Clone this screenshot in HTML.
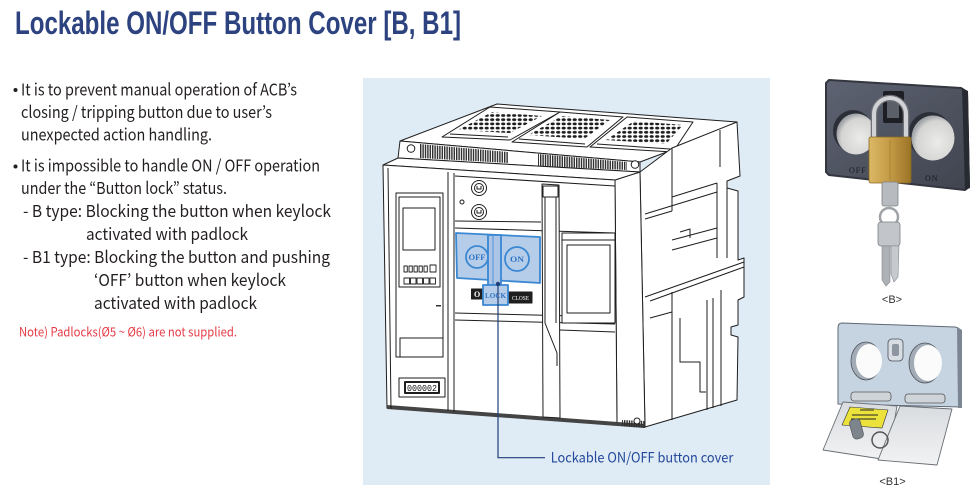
<!DOCTYPE html>
<html><head><meta charset="utf-8">
<style>
html,body{margin:0;padding:0;background:#fff;}
body{width:979px;height:502px;overflow:hidden;}
svg{display:block;}
.t{font-family:"Noto Sans CJK KR","Liberation Sans",sans-serif;font-size:16.5px;fill:#231f20;}
</style></head><body>
<svg width="979" height="502" viewBox="0 0 979 502" xmlns="http://www.w3.org/2000/svg">
<defs>
 <pattern id="fins" width="2.4" height="20" patternUnits="userSpaceOnUse"><rect width="1.4" height="20" fill="#2e2e2e"/></pattern>
 <pattern id="dots" width="5.5" height="4.2" patternUnits="userSpaceOnUse"><ellipse cx="2.7" cy="2.1" rx="2.1" ry="1.4" fill="#1e1e1e"/></pattern>
 <linearGradient id="plate" x1="0" y1="0" x2="1" y2="1"><stop offset="0" stop-color="#5d6372"/><stop offset="1" stop-color="#40444f"/></linearGradient>
 <linearGradient id="gold" x1="0" y1="0" x2="1" y2="0"><stop offset="0" stop-color="#dcb866"/><stop offset="0.5" stop-color="#c49a45"/><stop offset="1" stop-color="#9c7427"/></linearGradient>
 <radialGradient id="hole" cx="0.6" cy="0.6" r="0.6"><stop offset="0" stop-color="#ebebe9"/><stop offset="0.8" stop-color="#d4d4d2"/><stop offset="1" stop-color="#a0a3a8"/></radialGradient>
 <linearGradient id="flap" x1="0" y1="0" x2="0" y2="1"><stop offset="0" stop-color="#d9dcdf"/><stop offset="1" stop-color="#f1f2f3"/></linearGradient>
</defs>

<!-- Title -->
<text x="15" y="34" font-family="'Liberation Sans Narrow','Liberation Sans',sans-serif" font-weight="bold" font-size="32" fill="#2c4380" textLength="446" lengthAdjust="spacingAndGlyphs">Lockable ON/OFF Button Cover [B, B1]</text>

<!-- Body text -->
<circle cx="15.5" cy="90" r="2" fill="#231f20"/>
<circle cx="15.5" cy="166.5" r="2" fill="#231f20"/>
<text class="t" x="21" y="95.5" textLength="276" lengthAdjust="spacingAndGlyphs">It is to prevent manual operation of ACB’s</text>
<text class="t" x="21" y="118" textLength="251" lengthAdjust="spacingAndGlyphs">closing / tripping button due to user’s</text>
<text class="t" x="21" y="140.5" textLength="191" lengthAdjust="spacingAndGlyphs">unexpected action handling.</text>
<text class="t" x="21" y="171.5" textLength="299" lengthAdjust="spacingAndGlyphs">It is impossible to handle ON / OFF operation</text>
<text class="t" x="21" y="194" textLength="206" lengthAdjust="spacingAndGlyphs">under the “Button lock” status.</text>
<text class="t" x="23" y="217" textLength="308" lengthAdjust="spacingAndGlyphs">- B type: Blocking the button when keylock</text>
<text class="t" x="86" y="240" textLength="162" lengthAdjust="spacingAndGlyphs">activated with padlock</text>
<text class="t" x="23" y="263" textLength="307" lengthAdjust="spacingAndGlyphs">- B1 type: Blocking the button and pushing</text>
<text class="t" x="94" y="286" textLength="192" lengthAdjust="spacingAndGlyphs">‘OFF’ button when keylock</text>
<text class="t" x="94" y="309" textLength="163" lengthAdjust="spacingAndGlyphs">activated with padlock</text>
<text x="19" y="336.5" font-family="'Noto Sans CJK KR','Liberation Sans',sans-serif" font-size="12.5" fill="#e63b46" textLength="218" lengthAdjust="spacingAndGlyphs">Note) Padlocks(Ø5 ~ Ø6) are not supplied.</text>

<!-- Center panel -->
<rect x="363" y="78" width="407" height="407" fill="#dfebf5"/>

<g stroke="#1e1e1e" stroke-width="1" fill="#fff" stroke-linejoin="round">
 <!-- top surface -->
 <polygon points="400,141 497,104 737,122 672,150 640,162"/>
 <polygon points="442,137 510,140 560,112 490,107"/>
 <polygon points="512,142 587,147 623,117 560,112"/>
 <polygon points="590,147 673,152 693,122 627,117"/>
 <polygon points="458,130 510,133 542,116 492,112" fill="url(#dots)" stroke="none"/>
 <polygon points="528,135 584,139 610,120 562,116" fill="url(#dots)" stroke="none"/>
 <polygon points="606,140 666,144 683,125 634,121" fill="url(#dots)" stroke="none"/>
 <path fill="none" d="M450,134 L508,137 M519,139 L585,144 M597,144 L670,149"/>
 <!-- fin face -->
 <polygon points="400,141 640,162 640,172 398,158"/>
 <polygon points="420,144 508,152 508,163 420,158" fill="url(#fins)" stroke="none"/>
 <polygon points="538,154 627,162 627,170 538,166" fill="url(#fins)" stroke="none"/>
 <circle cx="411" cy="148.5" r="3.8"/>
 <circle cx="635" cy="164.5" r="3.8"/>
 <!-- right assembly -->
 <polygon points="640,172 672,148 737,122 740,176 727,181 727,188 738,191 738,260 744,258 744,297 738,300 738,325 731,327 731,335 738,337 737,400 645,427"/>
 <path fill="none" d="M672,148 V211 M720,130 V167 M645,214 L717,192 M645,219 L672,211 M672,197 L717,183 M717,183 V258 M672,240 L717,228 M672,250 L717,238 M680,232 L690,229 V238 M645,297 L744,262 M650,301 L744,267 M672,292 V420 M650,318 L672,312 M680,318 V362 H700 V392 H706 M707,300 V410 M713,298 V408 M721,290 V406 M727,188 V258"/>
 <!-- front slab side & top -->
 <polygon points="615,180 640,172 645,427 617,425"/>
 <polygon points="383,165 398,158 640,172 615,180"/>
 <!-- front face -->
 <polygon points="383,165 615,180 617,425 387,408"/>
 <polygon points="387,405 645,424 645,428 387,409" fill="#444" stroke="none"/>
 <polygon points="622,420 645,421 645,428 622,426" fill="url(#fins)" stroke="none"/>
 <circle cx="637" cy="421" r="3"/>
 <path fill="none" d="M388,168 L391,409 M448,172 V411 M454,173 V412 M455,176 L615,186"/>
 <!-- left module -->
 <rect x="396" y="193" width="47" height="164"/>
 <rect x="399" y="197" width="41" height="90"/>
 <rect x="403" y="208" width="32" height="42"/>
 <g fill="#fff" stroke-width="0.9">
  <rect x="404" y="266" width="3.3" height="6"/><rect x="409" y="266" width="3.3" height="6"/><rect x="414" y="266" width="3.3" height="6"/><rect x="419" y="266" width="3.3" height="6"/><rect x="424" y="266" width="3.3" height="6"/>
  <rect x="430" y="265" width="6" height="7"/>
  <rect x="404" y="278" width="5.5" height="6"/><rect x="410.5" y="278" width="5.5" height="6"/><rect x="417" y="278" width="5.5" height="6"/><rect x="423.5" y="278" width="5.5" height="6"/><rect x="430" y="278" width="5.5" height="6"/>
 </g>
 <rect x="436" y="305" width="5" height="1.5" fill="#333" stroke="none"/>
 <rect x="400" y="338" width="43" height="19"/>
 <rect x="399" y="378" width="46" height="19"/>
 <rect x="405" y="382" width="34" height="11" stroke-width="2"/>
 <text x="422" y="391" font-family="'Liberation Mono',monospace" font-size="9" fill="#111" stroke="none" text-anchor="middle" textLength="30" lengthAdjust="spacingAndGlyphs">000002</text>
 <!-- center buttons -->
 <circle cx="479" cy="188" r="7.5"/><circle cx="479" cy="188" r="4.5"/>
 <path d="M477,186 v3 h4 v-3" fill="none"/>
 <circle cx="479" cy="212" r="7.5"/><circle cx="479" cy="212" r="4.5"/>
 <path d="M477,210 v3 h4 v-3" fill="none"/>
 <circle cx="462" cy="202" r="2"/>
 <path fill="none" d="M455,221 L541,222 M455,228 L615,233 M455,313 L615,317 M455,320 L615,324 M560,330 L615,332"/>
 <!-- slot -->
 <polygon points="542,184 559,185 560,418 543,417"/>
 <rect x="543" y="186" width="15" height="11"/>
 <path fill="none" d="M545,197 V323 L557,353 V366 M556,197 V323"/>
 <!-- right window -->
 <rect x="562" y="233" width="53" height="90"/>
 <path fill="none" d="M562,240 H615"/>
 <rect x="567" y="245" width="43" height="68"/>
 <!-- dark name plates -->
 <rect x="471.5" y="289" width="11" height="10" fill="#1e1e1e"/>
 <text x="474" y="297" font-family="'Liberation Serif',serif" font-size="8" font-weight="bold" fill="#fff" stroke="none">O</text>
 <rect x="509" y="292" width="23" height="11" fill="#1e1e1e"/>
 <text x="512" y="300" font-family="'Liberation Serif',serif" font-size="6" fill="#fff" stroke="none" textLength="17" lengthAdjust="spacingAndGlyphs">CLOSE</text>
</g>

<!-- Blue lockable cover -->
<g stroke="#3a88d2" stroke-width="1.8" stroke-linejoin="round">
 <polygon points="456,233 540,237 540,283 457,278" fill="#b6cdea"/>
 <circle cx="477" cy="257" r="11" fill="#b6cdea"/>
 <circle cx="517" cy="259" r="12" fill="#b6cdea"/>
 <path d="M492,268 Q495,262 502,266" fill="none"/>
 <rect x="488" y="235" width="13" height="52" fill="#acc5e6"/>
 <path d="M493,236 V285" fill="none" stroke-width="0.8"/>
 <rect x="483" y="285" width="25" height="20" fill="#b6cdea"/>
</g>
<g font-family="'Liberation Serif',serif" font-weight="bold" fill="#2f74c4" text-anchor="middle">
 <text x="477" y="260" font-size="8" textLength="17" lengthAdjust="spacingAndGlyphs">OFF</text>
 <text x="517" y="262" font-size="8.5" textLength="14" lengthAdjust="spacingAndGlyphs">ON</text>
 <text x="495.5" y="298" font-size="7" textLength="21" lengthAdjust="spacingAndGlyphs">LOCK</text>
</g>

<!-- leader -->
<path d="M498,284 V457.7 H545" fill="none" stroke="#1f3f7a" stroke-width="1.2"/>
<circle cx="498" cy="284" r="2.2" fill="#1f3f7a"/>
<text x="550.7" y="462.7" font-family="'Noto Sans CJK KR','Liberation Sans',sans-serif" font-size="14" fill="#24489a" textLength="182.6" lengthAdjust="spacingAndGlyphs">Lockable ON/OFF button cover</text>

<!-- B photo -->
<polygon points="829,80 961,88 967,92 969,187 965,190 829,175 826,172 826,83" fill="url(#plate)" stroke="#33363f" stroke-width="2" stroke-linejoin="round"/>
<polygon points="962,88 968,91 970,188 965,190" fill="#272a31"/>
<ellipse cx="853" cy="131" rx="20" ry="21" fill="#2c2f37"/>
<ellipse cx="856" cy="134" rx="19.5" ry="20.5" fill="url(#hole)"/>
<ellipse cx="930" cy="135" rx="22" ry="23" fill="#2c2f37"/>
<ellipse cx="933" cy="138" rx="21.5" ry="22.5" fill="url(#hole)"/>
<text x="849" y="173" font-family="'Liberation Serif',serif" font-size="8" fill="#16181d" letter-spacing="1">OFF</text>
<text x="925" y="181" font-family="'Liberation Serif',serif" font-size="8" fill="#16181d" letter-spacing="1">ON</text>
<rect x="883" y="91" width="21" height="32" rx="2" fill="#1d1f24"/>
<rect x="887" y="98" width="12" height="20" fill="#5b6068"/>
<path d="M874,142 V114 A16,16 0 0 1 906,114 V142" fill="none" stroke="#6f7176" stroke-width="6.5"/>
<path d="M874,142 V114 A16,16 0 0 1 906,114 V142" fill="none" stroke="#d0d2d5" stroke-width="4"/>
<rect x="869" y="137" width="42" height="46" rx="2" fill="url(#gold)" stroke="#8a6a22" stroke-width="0.8"/>
<path d="M890,140 V180" stroke="#a88336" stroke-width="1"/>
<rect x="882" y="182" width="16" height="24" rx="2" fill="#b7babe" stroke="#7d8085" stroke-width="0.8"/>
<circle cx="889" cy="217" r="9" fill="none" stroke="#9fa2a6" stroke-width="2.5"/>
<rect x="878" y="222" width="22" height="24" rx="3" fill="#c2c5c9" stroke="#7b7e83" stroke-width="0.8"/>
<polygon points="882,246 890,246 890,282 886,286 882,280" fill="#aeb1b5" stroke="#85888c" stroke-width="0.6"/>
<polygon points="891,246 899,246 898,277 894,282 891,274" fill="#c6c9cd" stroke="#85888c" stroke-width="0.6"/>
<text x="892" y="303" font-family="'Liberation Sans',sans-serif" font-size="11" fill="#333" text-anchor="middle">&lt;B&gt;</text>

<!-- B1 photo -->
<path d="M842,323 L955,327 Q961,328 961,334 L961,407 L838,404 L838,328 Q838,323 842,323 Z" fill="#c6d3e1" stroke="#5f6873" stroke-width="1"/>
<polygon points="957,327 962,330 962,408 958,408" fill="#7c8592"/>
<ellipse cx="866" cy="361" rx="15" ry="19" fill="#a3acb6" stroke="#4c5259" stroke-width="0.8"/>
<ellipse cx="869" cy="361" rx="13" ry="17" fill="#fbfbfb"/>
<ellipse cx="925" cy="363" rx="16" ry="20" fill="#a3acb6" stroke="#4c5259" stroke-width="0.8"/>
<ellipse cx="928" cy="363" rx="14" ry="18" fill="#fbfbfb"/>
<rect x="888" y="339" width="15" height="22" rx="4" fill="#d7dde3" stroke="#4c5259" stroke-width="0.8"/>
<rect x="892" y="344" width="7" height="12" rx="2" fill="#8d96a0"/>
<rect x="851" y="392" width="40" height="9" rx="3" fill="#cfd4d9" stroke="#555" stroke-width="0.8"/>
<rect x="905" y="394" width="40" height="9" rx="3" fill="#cfd4d9" stroke="#555" stroke-width="0.8"/>
<polygon points="843,402 897,406 888,460 823,450" fill="url(#flap)" stroke="#6a6f75" stroke-width="0.9" stroke-linejoin="round"/>
<polygon points="900,406 952,409 937,465 878,460" fill="url(#flap)" stroke="#6a6f75" stroke-width="0.9" stroke-linejoin="round"/>
<polygon points="850,407 888,410 882,428 842,425" fill="#ebe23c" stroke="#333" stroke-width="0.6"/>
<path d="M860,410 h14 M852,415 h26 M851,419 h25" stroke="#222" stroke-width="1"/>
<rect x="851" y="419" width="11" height="20" rx="4" fill="#7e848b" stroke="#4a4f55" stroke-width="0.6" transform="rotate(-15 856 429)"/>
<circle cx="880" cy="440" r="8" fill="none" stroke="#555" stroke-width="1.5"/>
<text x="892.5" y="485" font-family="'Liberation Sans',sans-serif" font-size="11" fill="#333" text-anchor="middle">&lt;B1&gt;</text>
</svg>
</body></html>
